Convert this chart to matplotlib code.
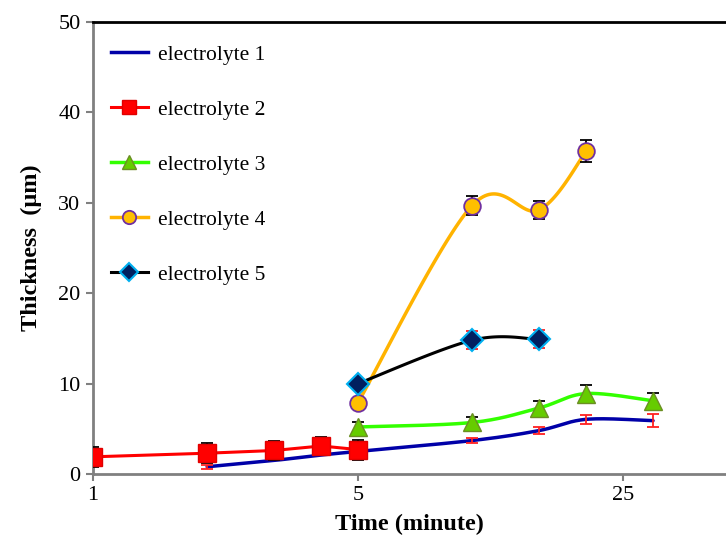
import numpy as np
import matplotlib
matplotlib.use("Agg")
import matplotlib.pyplot as plt

# ---- data ----
x1 = [2, 3, 4, 5, 10, 15, 20, 30]
y1 = [0.8, 1.5, 2.1, 2.5, 3.7, 4.8, 6.05, 5.9]
e1 = [0.2, 0.0, 0.0, 0.0, 0.3, 0.4, 0.5, 0.7]

x2 = [1, 2, 3, 4, 5]
y2 = [1.9, 2.3, 2.6, 3.1, 2.7]
e2 = [1.1, 1.1, 1.0, 1.0, 1.1]

x3 = [5, 10, 15, 20, 30]
y3 = [5.2, 5.7, 7.3, 8.9, 8.1]
e3 = [0.6, 0.6, 0.8, 0.9, 0.85]

x4 = [5, 10, 15, 20]
y4 = [7.9, 29.7, 29.2, 35.7]
e4 = [0.0, 1.0, 1.0, 1.2]

x5 = [5, 10, 15]
y5 = [10.0, 14.8, 14.9]
e5 = [0.0, 1.0, 1.0]

labels = ["electrolyte 1", "electrolyte 2", "electrolyte 3", "electrolyte 4", "electrolyte 5"]
xticks = [1, 5, 25]
yticks = [0, 10, 20, 30, 40, 50]

plt.rcParams['font.family'] = ['Liberation Serif', 'DejaVu Serif']

fig = plt.figure(figsize=(7.26, 5.44), dpi=100)
L, R, T, B = 93, 726, 22, 474
ax = fig.add_axes([L/726, 1 - B/544, (R-L)/726, (B-T)/544])
ax.set_xscale('log')
xmax = 5 ** ((R - L) / 265)
ax.set_xlim(1, xmax)
ax.set_ylim(0, 50)

SX = 265 / np.log10(5)   # px per decade
SY = (B - T) / 50.0


def smooth(xs, ys, n=40):
    u = np.log10(np.asarray(xs, float)) * SX
    v = np.asarray(ys, float) * SY
    P = np.column_stack([u, v])
    out = [P[0]]
    m = len(P)
    for i in range(m - 1):
        p0 = P[i - 1] if i > 0 else P[i]
        p1 = P[i]
        p2 = P[i + 1]
        p3 = P[i + 2] if i + 2 < m else P[i + 1]
        c1 = p1 + (p2 - p0) / 6.0
        c2 = p2 - (p3 - p1) / 6.0
        t = np.linspace(0, 1, n)[1:, None]
        seg = (1-t)**3*p1 + 3*(1-t)**2*t*c1 + 3*(1-t)*t**2*c2 + t**3*p2
        out.extend(seg)
    out = np.array(out)
    return 10 ** (out[:, 0] / SX), out[:, 1] / SY


def draw(xs, ys, es, color, ecolor, marker, mfc, mec, ms, lw, sm, label, mew=1.0):
    if sm:
        sx, sy = smooth(xs, ys)
    else:
        sx, sy = xs, ys
    ax.plot(sx, sy, color=color, lw=lw, zorder=2, solid_capstyle='round')
    idx = [i for i in range(len(xs)) if es[i] > 0]
    ax.errorbar([xs[i] for i in idx], [ys[i] for i in idx], yerr=[es[i] for i in idx],
                fmt='none', ecolor=ecolor, elinewidth=1.3, capsize=4, capthick=1.3, zorder=3)
    if marker is not None:
        ax.plot(xs, ys, ls='none', marker=marker,
                mfc=mfc, mec=mec, ms=ms, mew=mew, zorder=4)
    ax.plot([], [], color=color, lw=lw, marker=marker, mfc=mfc, mec=mec,
            ms=(ms * 0.8 if marker else 0), mew=mew, label=label)


draw(x1, y1, e1, '#0000A8', '#FF2020', None, None, None, 0, 2.5, True, labels[0])
draw(x2, y2, e2, '#FF0000', 'black', 's', '#FF0000', '#E00000', 13, 2.2, False, labels[1])
draw(x3, y3, e3, '#33FF00', 'black', '^', '#66CC00', '#6B8E23', 13, 2.5, True, labels[2])
draw(x4, y4, e4, '#FFB300', 'black', 'o', '#FFC000', '#7030A0', 12, 2.5, True, labels[3], mew=1.3)
draw(x5, y5, e5, 'black', '#FF2020', 'D', '#002060', '#00B0F0', 11, 2.2, True, labels[4], mew=1.5)

for s in ['left', 'bottom']:
    ax.spines[s].set_color('#808080')
    ax.spines[s].set_linewidth(2)
ax.spines['top'].set_color('black')
ax.spines['top'].set_linewidth(2)
ax.spines['right'].set_visible(False)

ax.set_xticks(xticks)
ax.set_xticklabels([str(t) for t in xticks])
ax.xaxis.set_minor_locator(matplotlib.ticker.NullLocator())
ax.set_yticks(yticks)
ax.tick_params(axis='both', direction='out', length=5, width=1.5, color='#808080',
               labelsize=16, pad=4)

ax.set_xlabel('Time (minute)', fontsize=17.5, fontweight='bold', labelpad=6)
ax.set_ylabel('Thickness  (\u03bcm)', fontsize=17.5, fontweight='bold', labelpad=12)

leg = ax.legend(loc='upper left', bbox_to_anchor=(-0.0095, 1.002), frameon=False, fontsize=15.5,
                labelspacing=1.62, handlelength=1.72, handletextpad=0.48, borderaxespad=0.7,
                borderpad=0.4)

fig.savefig('out.png', dpi=100)
